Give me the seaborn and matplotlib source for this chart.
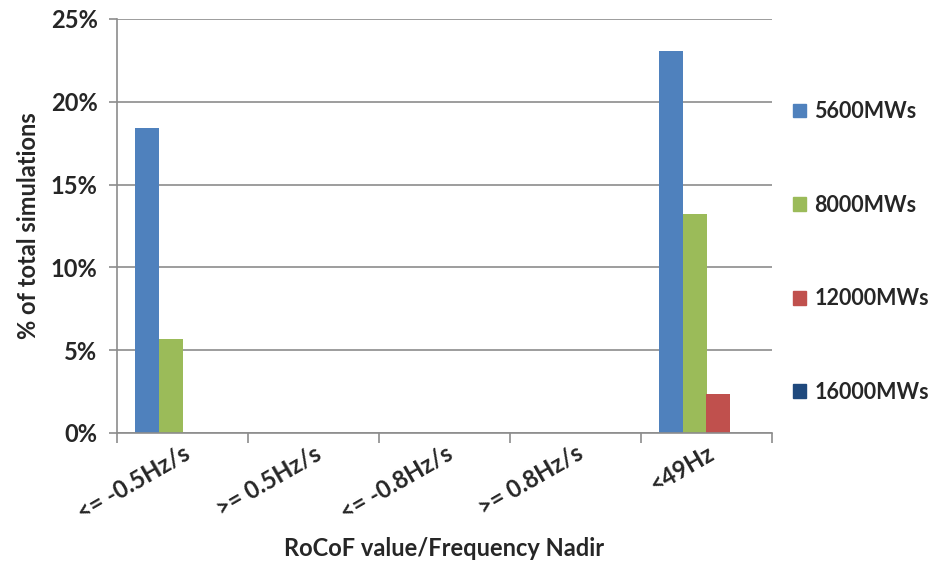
import matplotlib
matplotlib.use("Agg")
import matplotlib.pyplot as plt
import matplotlib.patches as mpatches
import seaborn as sns
import pandas as pd
from matplotlib.ticker import FuncFormatter, FixedLocator

categories = ["<= -0.5Hz/s", ">= 0.5Hz/s", "<= -0.8Hz/s", ">= 0.8Hz/s", "<49Hz"]
series_names = ["5600MWs", "8000MWs", "12000MWs", "16000MWs"]
v5600 = [18.4, 0.0, 0.0, 0.0, 23.05]
v8000 = [5.7, 0.0, 0.0, 0.0, 13.2]
v12000 = [0.0, 0.0, 0.0, 0.0, 2.35]
v16000 = [0.0, 0.0, 0.0, 0.0, 0.0]
colors = ["#4F81BD", "#9BBB59", "#C0504D", "#1F497D"]
yticks = [0, 5, 10, 15, 20, 25]

rows = []
for name, vals in zip(series_names, [v5600, v8000, v12000, v16000]):
    for c, v in zip(categories, vals):
        rows.append({"cat": c, "series": name, "val": v})
df = pd.DataFrame(rows)

sns.set_theme(style="white")
plt.rcParams["font.family"] = ["Lato", "DejaVu Sans"]
plt.rcParams["font.weight"] = "bold"

FS = 17

fig = plt.figure(figsize=(9.44, 5.63), dpi=100)
ax = fig.add_axes([117/944, 1 - 433/563, (772 - 117)/944, (433 - 19)/563])

sns.barplot(data=df, x="cat", y="val", hue="series", order=categories,
            hue_order=series_names, palette=colors, width=0.727,
            saturation=1, ax=ax, legend=False, linewidth=0)

ax.set_xlim(-0.5, 4.5)
ax.set_ylim(0, 25)
ax.set_yticks(yticks)
ax.yaxis.set_major_formatter(FuncFormatter(lambda v, p: f"{int(v)}%"))
ax.grid(axis="y", color="#8c8c8c", linewidth=1.2)
ax.set_axisbelow(True)

for s in ["top", "right"]:
    ax.spines[s].set_visible(False)
for s in ["left", "bottom"]:
    ax.spines[s].set_color("#8c8c8c")
    ax.spines[s].set_linewidth(1.2)

ax.tick_params(axis="y", which="major", left=True, length=6, color="#8c8c8c",
               width=1.2, labelsize=FS, pad=8)
ax.xaxis.set_minor_locator(FixedLocator([-0.5, 0.5, 1.5, 2.5, 3.5, 4.5]))
ax.tick_params(axis="x", which="minor", bottom=True, length=7, color="#8c8c8c", width=1.2)
ax.tick_params(axis="x", which="major", bottom=False, length=0, labelsize=FS, pad=6)
ax.set_xticks(range(len(categories)))
ax.set_xticklabels(categories, rotation=30, ha="right", rotation_mode="anchor",
                   fontweight="bold")
for lab in ax.get_yticklabels():
    lab.set_fontweight("bold")

ax.set_xlabel("RoCoF value/Frequency Nadir", fontsize=FS, fontweight="bold", labelpad=9)
ax.set_ylabel("% of total simulations", fontsize=FS, fontweight="bold", labelpad=8)

handles = [mpatches.Patch(color=c, label=n) for c, n in zip(colors, series_names)]
leg = fig.legend(handles=handles, loc="center left", bbox_to_anchor=(793/944, 1 - 252/563),
                 frameon=False, labelspacing=3.37, handlelength=0.6, handleheight=0.6,
                 handletextpad=0.4, borderpad=0, borderaxespad=0,
                 prop={"size": 15.5, "weight": "bold"})

fig.savefig("out.png", dpi=100)
